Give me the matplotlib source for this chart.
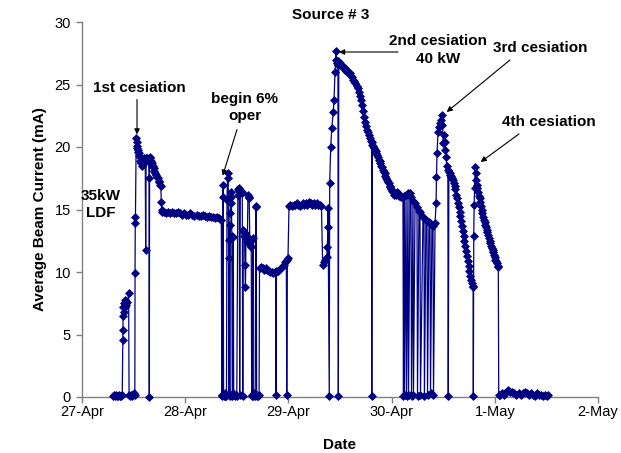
import matplotlib
matplotlib.use("Agg")
import matplotlib.pyplot as plt

# time in days after 27-Apr 00:00
t_days = [
    # before 1st cesiation
    0.300, 0.310, 0.320, 0.330, 0.340, 0.350, 0.360, 0.370, 0.380, 0.390,
    0.395, 0.396, 0.398, 0.400, 0.404, 0.408, 0.413, 0.418, 0.424, 0.430, 0.440, 0.452,
    0.456, 0.465, 0.475, 0.485, 0.495, 0.505, 0.512,
    0.514, 0.516, 0.518, 0.525,
    # 1st cesiation decay
    0.529, 0.533, 0.537, 0.541, 0.545, 0.550, 0.555, 0.560, 0.566, 0.572,
    0.578, 0.584, 0.590, 0.596, 0.602, 0.608, 0.613, 0.617, 0.621, 0.627,
    0.633, 0.640, 0.646, 0.650, 0.652, 0.655, 0.662, 0.670, 0.678, 0.686,
    0.694, 0.702, 0.710, 0.718, 0.726, 0.734, 0.742, 0.750, 0.758, 0.764,
    0.768, 0.772, 0.778,
    # flat ~14.5
    0.790, 0.810, 0.830, 0.850, 0.870, 0.890, 0.910, 0.930, 0.950, 0.970,
    0.990, 1.010, 1.030, 1.050, 1.070, 1.090, 1.110, 1.130, 1.150, 1.170,
    1.190, 1.210, 1.230, 1.250, 1.270, 1.290, 1.310, 1.330, 1.350,
    # begin 6% operation
    1.355, 1.360, 1.364, 1.368, 1.372, 1.378, 1.384, 1.390, 1.400, 1.405,
    1.410, 1.416, 1.420, 1.424, 1.428, 1.430, 1.432, 1.434, 1.440, 1.444,
    1.448, 1.452, 1.456, 1.462, 1.466, 1.470, 1.480, 1.490, 1.500, 1.510,
    1.515, 1.520, 1.524, 1.528, 1.534, 1.540, 1.547, 1.553, 1.558, 1.562,
    1.566, 1.570, 1.575, 1.579, 1.584, 1.589, 1.596, 1.602, 1.608, 1.614,
    1.620, 1.626, 1.630, 1.636, 1.640, 1.644, 1.650, 1.656, 1.660, 1.666,
    1.672, 1.678, 1.684, 1.688, 1.692, 1.700, 1.708, 1.716,
    # flat ~10
    1.720, 1.735, 1.750, 1.765, 1.780, 1.795, 1.810, 1.825, 1.840, 1.855,
    1.870, 1.877, 1.880, 1.884, 1.895, 1.910, 1.925, 1.940, 1.955, 1.970,
    1.980, 1.984, 1.990, 1.996,
    # flat ~15.4
    2.006, 2.020, 2.035, 2.050, 2.065, 2.080, 2.095, 2.110, 2.125, 2.140,
    2.155, 2.170, 2.185, 2.200, 2.215, 2.230, 2.245, 2.260, 2.275, 2.290,
    2.305, 2.320, 2.332, 2.345, 2.358, 2.371, 2.378, 2.381, 2.384, 2.396,
    # 2nd cesiation
    2.400, 2.410, 2.420, 2.435, 2.442, 2.452, 2.461, 2.465, 2.470, 2.476,
    2.480, 2.484, 2.488, 2.496, 2.504, 2.512, 2.520, 2.528, 2.536, 2.544,
    2.552, 2.560, 2.568, 2.576, 2.584, 2.592, 2.600, 2.610, 2.620, 2.630,
    2.640, 2.650, 2.660, 2.670, 2.680, 2.690, 2.700, 2.710, 2.720, 2.730,
    2.740, 2.750, 2.760, 2.770, 2.780, 2.790, 2.800, 2.806, 2.808,
    2.812, 2.820, 2.828, 2.836, 2.844, 2.852, 2.860, 2.868, 2.876, 2.884,
    2.892, 2.900, 2.908, 2.916, 2.924, 2.932, 2.940, 2.948, 2.956, 2.964,
    2.972, 2.980, 2.988, 2.996, 3.004, 3.014,
    3.028, 3.043, 3.052, 3.062, 3.072,
    3.081, 3.095, 3.110, 3.115, 3.120, 3.125, 3.140, 3.145, 3.159, 3.164,
    3.178, 3.188, 3.193, 3.207, 3.212, 3.227, 3.246, 3.251, 3.265, 3.275,
    3.280, 3.304, 3.314, 3.318, 3.333, 3.343, 3.348, 3.362, 3.372, 3.377,
    3.391, 3.401, 3.406, 3.421,
    # 3rd cesiation
    3.431, 3.435, 3.440, 3.450, 3.459, 3.469, 3.478, 3.486, 3.493, 3.501,
    3.508, 3.515, 3.522, 3.528, 3.534, 3.545, 3.549,
    3.555, 3.562, 3.570, 3.578, 3.586, 3.594, 3.602, 3.610, 3.618, 3.626,
    3.634, 3.642, 3.650, 3.658, 3.666, 3.674, 3.682, 3.690, 3.698, 3.706,
    3.714, 3.722, 3.730, 3.738, 3.746, 3.754, 3.762, 3.770, 3.778, 3.786,
    3.790,
    # 4th cesiation
    3.792, 3.796, 3.800, 3.804, 3.810, 3.815, 3.820, 3.826, 3.832, 3.838,
    3.845, 3.852, 3.859, 3.866, 3.873, 3.880, 3.887, 3.894, 3.901, 3.908,
    3.915, 3.922, 3.929, 3.936, 3.943, 3.950, 3.957, 3.964, 3.971, 3.978,
    3.985, 3.992, 3.999, 4.006, 4.013, 4.020, 4.027, 4.034, 4.038,
    # off
    4.050, 4.070, 4.090, 4.110, 4.130, 4.150, 4.170, 4.190, 4.210, 4.230,
    4.250, 4.270, 4.290, 4.310, 4.330, 4.350, 4.370, 4.390, 4.410, 4.430,
    4.450, 4.470, 4.490, 4.510, 4.520,
]

current_mA = [
    0.1, 0.2, 0.1, 0.2, 0.1, 0.1, 0.2, 0.1, 0.1, 0.2,
    4.6, 5.4, 6.5, 7.2, 6.8, 7.5, 7.8, 7.2, 7.4, 7.5, 7.6, 8.3,
    0.2, 0.1, 0.2, 0.1, 0.2, 0.3, 0.2,
    9.9, 13.9, 14.4, 20.7,
    20.4, 20.1, 19.9, 19.8, 19.6, 19.5, 19.3, 19.2, 18.9, 18.7,
    18.5, 18.9, 19.0, 19.1, 19.0, 18.9, 18.8, 11.8, 19.1, 19.0,
    19.1, 19.0, 18.8, 17.5, 0.0, 19.2, 19.1, 18.9, 18.7, 18.5,
    18.3, 18.1, 17.9, 17.8, 17.6, 17.5, 17.3, 17.2, 17.0, 16.9,
    15.6, 15.0, 14.8,
    14.8, 14.7, 14.8, 14.7, 14.8, 14.7, 14.7, 14.8, 14.7, 14.6,
    14.7, 14.6, 14.6, 14.7, 14.6, 14.5, 14.6, 14.5, 14.5, 14.6,
    14.5, 14.4, 14.5, 14.4, 14.4, 14.3, 14.4, 14.3, 14.2,
    0.1, 0.2, 17.0, 16.0, 0.1, 0.2, 0.1, 0.3, 0.1, 15.8,
    17.5, 17.9, 12.6, 0.2, 11.1, 13.8, 0.1, 14.7, 16.4, 16.0,
    15.5, 12.9, 0.1, 0.3, 12.8, 0.2, 0.1, 0.2, 0.1, 16.2,
    16.6, 16.7, 16.5, 0.2, 16.4, 16.5, 16.4, 16.3, 0.1, 13.4,
    13.2, 12.9, 13.1, 10.6, 8.8, 13.0, 12.8, 12.5, 16.2, 16.0,
    15.9, 12.4, 12.2, 12.6, 12.0, 0.1, 0.2, 12.7, 0.1, 0.3,
    0.1, 0.2, 15.3, 15.2, 0.1, 0.2, 0.1, 0.2,
    10.3, 10.4, 10.3, 10.2, 10.3, 10.2, 10.1, 10.0, 10.0, 9.9,
    10.0, 10.1, 0.2, 10.0, 10.1, 10.2, 10.3, 10.4, 10.6, 10.8,
    10.9, 0.2, 11.0, 11.1,
    15.3, 15.4, 15.3, 15.4, 15.4, 15.5, 15.4, 15.3, 15.4, 15.5,
    15.4, 15.5, 15.4, 15.6, 15.5, 15.4, 15.5, 15.4, 15.5, 15.4,
    15.4, 15.3, 10.6, 10.8, 11.0, 11.2, 12.0, 13.6, 15.1, 0.1,
    17.1, 20.0, 21.5, 22.8, 23.8, 26.0, 27.7, 27.0, 26.7, 26.9,
    26.6, 0.1, 26.8, 26.7, 26.6, 26.6, 26.5, 26.4, 26.3, 26.3,
    26.2, 26.1, 26.1, 26.0, 25.9, 25.9, 25.9, 25.7, 25.6, 25.4,
    25.3, 25.1, 24.9, 24.7, 24.4, 24.1, 23.8, 23.4, 22.9, 22.4,
    22.0, 21.7, 21.4, 21.2, 21.0, 20.7, 20.5, 20.4, 0.1,
    20.2, 20.1, 19.9, 19.8, 19.7, 19.5, 19.4, 19.2, 19.0, 18.9,
    18.7, 18.5, 18.4, 18.2, 18.0, 17.9, 17.7, 17.5, 17.4, 17.2,
    17.1, 16.9, 16.8, 16.6, 16.5, 16.4,
    16.2, 16.2, 16.4, 16.3, 16.1,
    16.1, 16.0, 16.0, 0.1, 16.1, 0.2, 16.2, 0.1, 16.3, 0.2,
    16.3, 16.0, 0.1, 15.7, 0.2, 15.5, 15.2, 0.1, 14.9, 14.8,
    0.2, 14.4, 14.3, 0.1, 14.2, 14.1, 0.2, 14.0, 13.9, 0.3,
    13.8, 13.7, 0.2, 13.9,
    15.5, 17.6, 19.5, 21.2, 21.6, 21.9, 22.2, 22.6, 21.8, 20.3,
    21.0, 20.4, 19.8, 19.2, 18.5, 18.2, 0.1,
    18.0, 17.9, 17.8, 17.7, 17.5, 17.4, 17.1, 16.9, 16.6, 16.2,
    15.9, 15.5, 15.2, 14.8, 14.5, 14.1, 13.7, 13.3, 12.9, 12.5,
    12.1, 11.7, 11.3, 10.9, 10.5, 10.1, 9.7, 9.4, 9.1, 8.9,
    8.8,
    0.1, 12.9, 15.4, 16.7, 18.4, 17.9, 17.4, 17.0, 16.7, 16.4,
    16.1, 15.9, 15.6, 15.3, 15.0, 14.7, 14.4, 14.2, 14.0, 13.8,
    13.6, 13.4, 13.2, 13.0, 12.7, 12.5, 12.3, 12.1, 11.9, 11.8,
    11.6, 11.4, 11.2, 11.0, 10.9, 10.7, 10.5, 10.4, 0.2,
    0.2, 0.3, 0.2, 0.4, 0.6, 0.4, 0.4, 0.3, 0.2, 0.3,
    0.2, 0.3, 0.4, 0.3, 0.2, 0.3, 0.2, 0.1, 0.3, 0.2,
    0.2, 0.1, 0.2, 0.1, 0.2,
]

date_labels = ["27-Apr", "28-Apr", "29-Apr", "30-Apr", "1-May", "2-May"]
y_ticks = [0, 5, 10, 15, 20, 25, 30]

assert len(t_days) == len(current_mA)

plt.rcParams['font.family'] = ['Liberation Sans', 'DejaVu Sans']

W, H = 621, 453
fig = plt.figure(figsize=(W / 100, H / 100), dpi=100)
ax = fig.add_axes([82 / W, 1 - 397 / H, (598 - 82) / W, (397 - 22) / H])

navy = '#000080'
ax.plot(t_days, current_mA, color=navy, lw=0.9, marker='D', ms=3.8,
        mec=navy, mfc=navy, mew=0.5, clip_on=False, zorder=3)

ax.set_xlim(0, len(date_labels) - 1)
ax.set_ylim(0, 30)
ax.set_xticks(range(len(date_labels)))
ax.set_xticklabels(date_labels)
ax.set_yticks(y_ticks)

for s in ['top', 'right']:
    ax.spines[s].set_visible(False)
for s in ['left', 'bottom']:
    ax.spines[s].set_color('#808080')
    ax.spines[s].set_linewidth(1.0)
ax.tick_params(axis='both', direction='out', length=4, width=1.0,
               color='#808080', labelsize=10.5, pad=4)
ax.tick_params(axis='x', pad=2)

ax.set_ylabel('Average Beam Current (mA)', fontsize=11, fontweight='bold')
ax.yaxis.set_label_coords(-0.068, 0.5)
ax.set_xlabel('Date', fontsize=11, fontweight='bold')
ax.xaxis.set_label_coords(0.5, -0.11)

fig.text(331 / W, 1 - 15 / H, 'Source # 3', ha='center', va='center',
         fontsize=11, fontweight='bold')

tkw = dict(ha='center', va='center', fontsize=11, fontweight='bold')
akw = dict(arrowstyle='-|>', color='black', lw=0.8, mutation_scale=8,
           shrinkA=0, shrinkB=0)

ax.text(0.552, 24.7, '1st cesiation', **tkw)
ax.annotate('', xy=(0.533, 21.0), xytext=(0.533, 23.8), arrowprops=akw)

ax.text(0.184, 15.4, '35kW\nLDF', linespacing=1.35, **tkw)

ax.text(1.579, 23.16, 'begin 6%\noper', linespacing=1.3, **tkw)
ax.annotate('', xy=(1.363, 17.7), xytext=(1.502, 21.4), arrowprops=akw)

ax.text(3.45, 27.76, '2nd cesiation\n40 kW', linespacing=1.3, **tkw)
ax.annotate('', xy=(2.490, 27.6), xytext=(3.062, 27.6), arrowprops=akw)

ax.text(4.438, 27.9, '3rd cesiation', **tkw)
ax.annotate('', xy=(3.534, 22.8), xytext=(4.147, 26.96), arrowprops=akw)

ax.text(4.525, 22.0, '4th cesiation', **tkw)
ax.annotate('', xy=(3.863, 18.8), xytext=(4.234, 21.04), arrowprops=akw)

fig.savefig('out.png', dpi=100)
